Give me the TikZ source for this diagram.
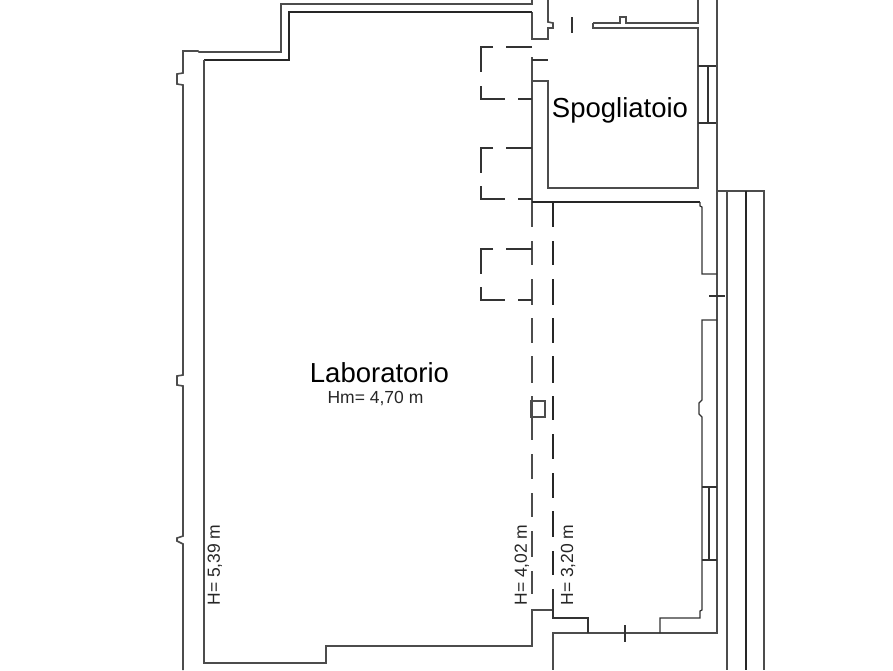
\documentclass[tikz,border=0pt]{standalone}
\usepackage{fontspec}
\setmainfont{Liberation Sans}
\tikzstyle{plan}=[x=1pt,y=-1pt,line cap=butt,line join=miter]
\tikzstyle{wall}=[draw=black!70,line width=1.6pt]
\tikzstyle{thin}=[draw=black!80,line width=1.3pt]
\tikzstyle{heavy}=[draw=black!85,line width=1.8pt]
\tikzstyle{room}=[inner sep=0pt,font=\fontsize{27.5}{30}\selectfont]
\tikzstyle{height}=[inner sep=0pt,text=black!85,font=\fontsize{17.5}{20}\selectfont]

\begin{document}
\begin{tikzpicture}[plan]
  \useasboundingbox (0,0) rectangle (893,670);
% outer wall, left and top
  \draw[wall] (183,670) -- (183,544) -- (177,541) -- (177,538) -- (183,536)
    -- (183,386) -- (177,385) -- (177,376) -- (183,375)
    -- (183,85) -- (177,84) -- (177,74) -- (183,73) -- (183,51) -- (198,51) -- (199,52)
    -- (281,52) -- (281,4) -- (532,4) -- (532,0);
% laboratorio
  \draw[wall] (532,12) -- (532,39) -- (548,39) -- (548,28) -- (553,28) -- (553,23)
    -- (548,22) -- (548,0);
  \draw[heavy] (532,12) -- (289,12) -- (289,60) -- (204,60);
  \draw[wall] (204,60) -- (204,663) -- (326,663) -- (326,646) -- (532,646) -- (532,610) -- (553,610);
% spogliatoio
  \draw[thin] (572,17) -- (572,33);
  \draw[wall] (593,23) -- (620,23) -- (620,17) -- (626,17) -- (626,23) -- (698,23) -- (698,0);
  \draw[wall] (593,23) -- (593,28) -- (698,28) -- (698,188) -- (548,188) -- (548,81) -- (532,81);
  \draw[wall] (532,57) -- (532,227);
  \draw[thin] (532,60) -- (548,60);
  \draw[thin] (698,66) -- (717,66) (698,123) -- (717,123) (708,66) -- (708,123);
  \draw[wall] (717,0) -- (717,633) -- (553,633) -- (553,670);
% lower right room
  \draw[heavy] (532,202) -- (700,202);
  \draw[thin] (700,202) -- (700,206) -- (702,207) -- (702,274) -- (717,274);
  \draw[thin] (717,320) -- (702,320) -- (702,400) -- (699,403) -- (699,414) -- (702,417) -- (702,610)
    -- (700,611) -- (700,618) -- (660,618) -- (660,633);
  \draw[thin] (553,589) -- (553,618) -- (588,618) -- (588,633);
  \draw[thin] (709,296) -- (725,296) (625,625) -- (625,642);
  \draw[thin] (702,487) -- (717,487) (702,560) -- (717,560) (709,487) -- (709,560);
% dashed beams
  \foreach \a/\b in {241/265,279/305,318/343,356/383,396/440,454/479,493/517,531/557,571/594}
    \draw[wall] (532,\a) -- (532,\b);
  \foreach \a/\b in {202/227,241/265,279/305,318/343,356/383,396/420,434/459,473/498,511/537,551/575}
    \draw[heavy] (553,\a) -- (553,\b);
  \draw[wall] (531,401) rectangle (545,417);
% cabinets
  \foreach \t/\b in {47/99,148/199,249/300}{
    \draw[thin] (532,\t) -- (506,\t);
    \draw[thin] (493,\t) -- (481,\t) -- (481,\t+25);
    \draw[thin] (481,\b-13) -- (481,\b) -- (505,\b);
    \draw[thin] (518,\b) -- (532,\b);
  }
% terrace
  \draw[wall] (717,191) -- (764,191) -- (764,670);
  \draw[wall] (727,191) -- (727,670);
  \draw[heavy] (746,191) -- (746,670);
% labels
  \node[room] (lab) at (379.5,373) {Laboratorio};
  \node[height] (hm) at (375.5,398) {Hm= 4,70 m};
  \node[room] (spo) at (620,110) {Spogliatoio};
  \node[height,rotate=90] (h1) at (215,565) {H= 5,39 m};
  \node[height,rotate=90] (h2) at (522,565) {H= 4,02 m};
  \node[height,rotate=90] (h3) at (568,565) {H= 3,20 m};
\end{tikzpicture}
\end{document}
